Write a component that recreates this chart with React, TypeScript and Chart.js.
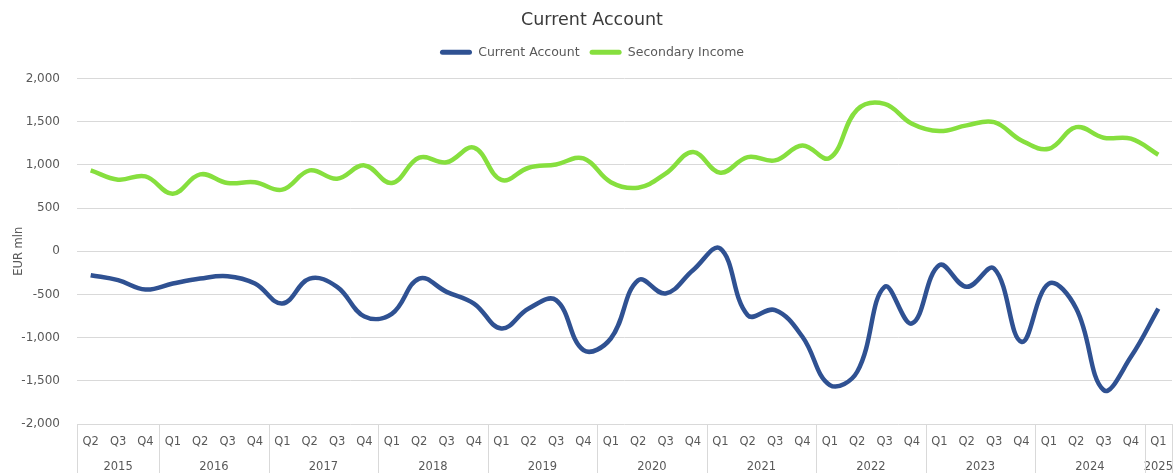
import React, { useEffect, useRef } from "react";
import { Chart, registerables } from "chart.js";

Chart.register(...registerables);

const quarterLabels = [
  "Q2", "Q3", "Q4",
  "Q1", "Q2", "Q3", "Q4",
  "Q1", "Q2", "Q3", "Q4",
  "Q1", "Q2", "Q3", "Q4",
  "Q1", "Q2", "Q3", "Q4",
  "Q1", "Q2", "Q3", "Q4",
  "Q1", "Q2", "Q3", "Q4",
  "Q1", "Q2", "Q3", "Q4",
  "Q1", "Q2", "Q3", "Q4",
  "Q1", "Q2", "Q3", "Q4",
  "Q1",
];

const yearLabels = ["2015", "2016", "2017", "2018", "2019", "2020", "2021", "2022", "2023", "2024", "2025"];
const quartersPerYear = [3, 4, 4, 4, 4, 4, 4, 4, 4, 4, 1];

const currentAccount = [
  -277, -335, -443, -374, -316, -289, -374, -605, -316, -412,
  -755, -725, -316, -470, -605, -894, -663, -566, -1145, -1010,
  -335, -489, -220, 31, -740, -682, -990, -1549, -1395, -412,
  -836, -162, -412, -200, -1048, -374, -663, -1607, -1222, -663,
];

const secondaryIncome = [
  936, 829, 867, 667, 890, 790, 798, 713, 936, 840,
  994, 790, 1083, 1030, 1199, 826, 967, 1005, 1075, 800,
  736, 898, 1148, 910, 1090, 1052, 1225, 1080, 1640, 1707,
  1476, 1391, 1457, 1495, 1283, 1187, 1437, 1314, 1303, 1118,
];

const FONT = "'DejaVu Sans', 'Noto Sans', sans-serif";
const GRID = "#d9d9d9";
const TEXT = "#595959";

// year boundaries / centers derived from quartersPerYear
const yearBounds: number[] = [];
const yearCenters: number[] = [];
{
  let start = 0;
  yearBounds.push(-0.5);
  for (const n of quartersPerYear) {
    yearCenters.push(start + (n - 1) / 2);
    start += n;
    yearBounds.push(start - 0.5);
  }
}

const separatorPlugin = {
  id: "yearSeparators",
  afterDraw(chart: any) {
    const s = chart.scales.x2;
    const ctx = chart.ctx;
    const top = chart.chartArea.bottom;
    const bottom = chart.height;
    ctx.save();
    ctx.strokeStyle = GRID;
    ctx.lineWidth = 1;
    for (const b of yearBounds) {
      const x = Math.round(s.getPixelForValue(b)) + 0.5;
      ctx.beginPath();
      ctx.moveTo(x, top);
      ctx.lineTo(x, bottom);
      ctx.stroke();
    }
    ctx.restore();
  },
};

export default function App() {
  const ref = useRef<HTMLCanvasElement | null>(null);

  useEffect(() => {
    document.body.style.margin = "0";
    const chart = new Chart(ref.current!, {
      type: "line",
      data: {
        labels: quarterLabels,
        datasets: [
          {
            label: "Current Account",
            data: currentAccount,
            borderColor: "#2F5192",
            backgroundColor: "#2F5192",
            borderWidth: 4.5,
            pointRadius: 0,
            tension: 0.4,
            xAxisID: "x",
          },
          {
            label: "Secondary Income",
            data: secondaryIncome,
            borderColor: "#86DF3E",
            backgroundColor: "#86DF3E",
            borderWidth: 4.5,
            pointRadius: 0,
            tension: 0.4,
            xAxisID: "x",
          },
        ],
      },
      plugins: [separatorPlugin],
      options: {
        animation: false,
        responsive: true,
        maintainAspectRatio: false,
        layout: { padding: { left: 12, right: 3, top: 0, bottom: 0 } },
        plugins: {
          title: {
            display: true,
            text: "Current Account",
            color: "#3a3a3a",
            font: { family: FONT, size: 17.5, weight: "500" },
            padding: { top: 10, bottom: 5 },
          },
          legend: {
            display: true,
            labels: {
              color: TEXT,
              font: { family: FONT, size: 12.5 },
              boxWidth: 32,
              boxHeight: 5,
              padding: 10,
              useBorderRadius: true,
              borderRadius: 2.5,
              generateLabels: (c: any) => {
                const items = Chart.defaults.plugins.legend.labels.generateLabels(c);
                items.forEach((it: any) => {
                  it.lineWidth = 0;
                  it.strokeStyle = "transparent";
                });
                return items;
              },
            },
          },
          tooltip: { enabled: false },
        },
        scales: {
          spacer: {
            type: "linear",
            position: "top",
            display: true,
            grid: { display: false },
            border: { display: false },
            ticks: { display: false },
            afterFit: (s: any) => {
              s.height = 10;
            },
          },
          x: {
            type: "category",
            position: "bottom",
            offset: true,
            grid: { display: false, drawTicks: false, tickLength: 0 },
            border: { display: false },
            afterFit: (s: any) => {
              s.height = 25;
              s.paddingLeft = 0;
              s.paddingRight = 0;
            },
            ticks: {
              color: TEXT,
              font: { family: FONT, size: 11.5 },
              maxRotation: 0,
              autoSkip: false,
              padding: 11,
            },
          },
          x2: {
            type: "linear",
            position: "bottom",
            min: -0.5,
            max: 39.5,
            grid: { display: false, drawTicks: false, tickLength: 0 },
            border: { display: false },
            afterFit: (s: any) => {
              s.height = 24;
              s.paddingLeft = 0;
              s.paddingRight = 0;
            },
            afterBuildTicks: (axis: any) => {
              axis.ticks = yearCenters.map((v) => ({ value: v }));
            },
            ticks: {
              color: TEXT,
              font: { family: FONT, size: 11.5 },
              maxRotation: 0,
              autoSkip: false,
              padding: 11,
              callback: (value: any) => {
                const i = yearCenters.indexOf(Number(value));
                return i >= 0 ? yearLabels[i] : "";
              },
            },
          },
          y: {
            min: -2000,
            max: 2000,
            afterFit: (s: any) => {
              s.width = 65;
            },
            grid: { color: GRID, drawTicks: false, lineWidth: 1 },
            border: { display: false },
            ticks: {
              stepSize: 500,
              color: TEXT,
              font: { family: FONT, size: 12 },
              padding: 17,
              callback: (v: any) => Number(v).toLocaleString("en-US"),
            },
            title: {
              display: true,
              text: "EUR mln",
              color: TEXT,
              font: { family: FONT, size: 11.5 },
              padding: { top: 0, bottom: 0 },
            },
          },
        },
      },
    });
    return () => chart.destroy();
  }, []);

  return (
    <div style={{ width: "1175px", height: "473px", position: "relative" }}>
      <canvas ref={ref} />
    </div>
  );
}
